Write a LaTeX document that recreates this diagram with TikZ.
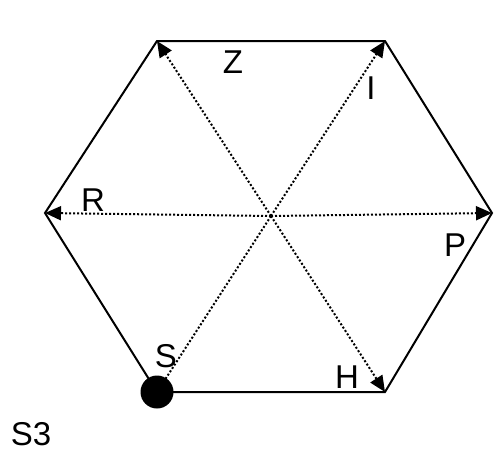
\documentclass[tikz,border=0pt]{standalone}
\usepackage{fontspec}
\setmainfont{Liberation Sans}
\usetikzlibrary{arrows.meta, positioning, calc}
\tikzset{
    side/.style={-, line width=2pt, black},
    diredge/.style={-{Triangle[length=16pt, width=14pt]}, line width=2pt,
                    dash pattern=on 2pt off 2pt, black},
    plainedge/.style={-, line width=2pt, dash pattern=on 2pt off 2pt, black},
    start/.style={circle, fill=black, minimum size=33pt, inner sep=0pt},
    lbl/.style={font=\fontsize{33}{35}\selectfont, inner sep=0pt},
}
\begin{document}
\begin{tikzpicture}[x=1pt, y=-1pt]
    \useasboundingbox (0,0) rectangle (494,451);
    \coordinate (TL) at (157,41);
    \coordinate (TR) at (385,41);
    \coordinate (L)  at (45,213);
    \coordinate (R)  at (492,213);
    \coordinate (BR) at (385,392);
    \coordinate (BL) at (157,392);
    \coordinate (C)  at (271,216);
    % hexagon
    \draw[side] (TL) -- (TR) -- (R) -- (BR) -- (BL) -- (L) -- cycle;
    % moves from the centre
    \draw[diredge] (C) -- (TL);
    \draw[diredge] (C) -- (TR);
    \draw[diredge] (C) -- (L);
    \draw[diredge] (C) -- (R);
    \draw[diredge] (C) -- (BR);
    \draw[plainedge] (C) -- (BL);
    \node[start] (S) at (BL) {};
    % labels
    \node[lbl] (lz) at (233,62) {Z};
    \node[lbl] (li) at (371,88) {I};
    \node[lbl] (lr) at (93,200) {R};
    \node[lbl] (lp) at (455,245) {P};
    \node[lbl] (ls) at (166,356) {S};
    \node[lbl] (lh) at (347,377) {H};
    \node[lbl] (ls3) at (31,434) {S3};
\end{tikzpicture}
\end{document}
